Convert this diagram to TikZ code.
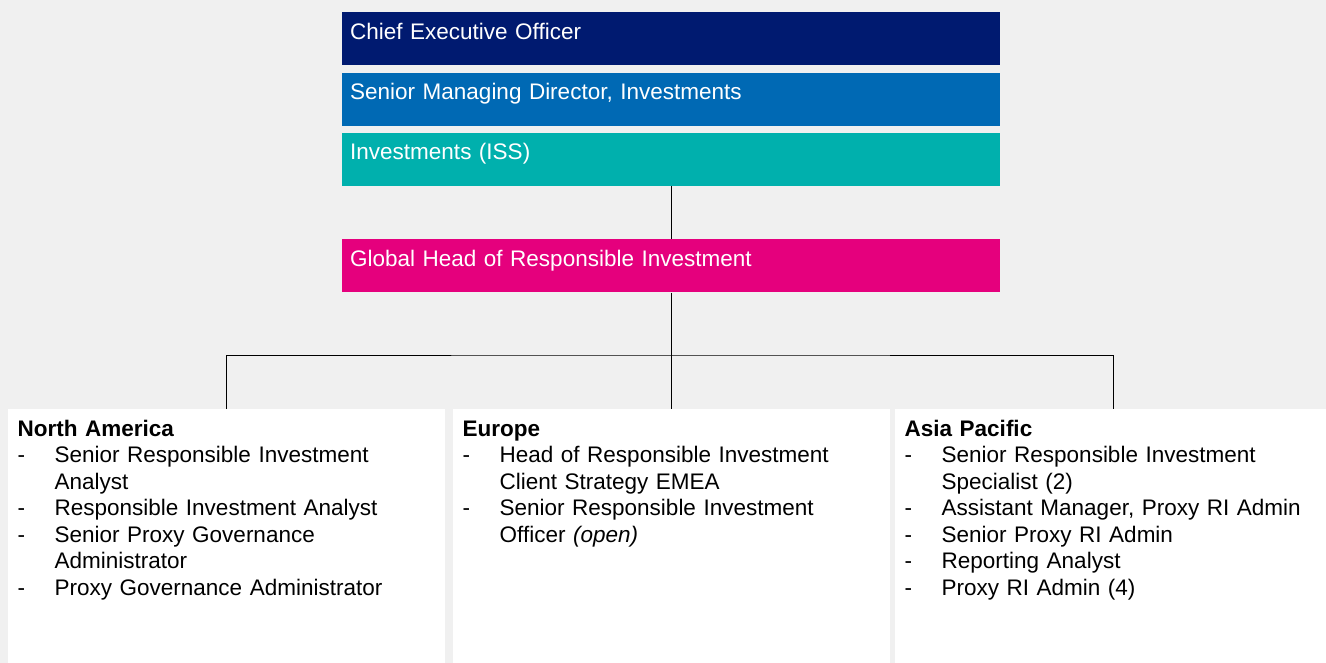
\documentclass[tikz,border=0pt]{standalone}
\usepackage{fontspec}
\setmainfont{Liberation Sans}
\usetikzlibrary{positioning}
\definecolor{ceoblue}{HTML}{001A70}
\definecolor{smdblue}{HTML}{0069B4}
\definecolor{issteal}{HTML}{00B0AD}
\definecolor{rimagenta}{HTML}{E5007D}
\definecolor{panelgray}{HTML}{F0F0F0}
\tikzset{
  levelbox/.style={anchor=north west,text width=642pt,inner xsep=8pt,inner ysep=0pt,
    text height=27pt,text depth=26pt,text=white,align=left,
    font=\fontsize{22.5}{26.5}\selectfont},
  regionbox/.style={anchor=north west,fill=white,text width=418pt,inner xsep=9.5pt,inner ysep=0pt,
    text height=27pt,text depth=235pt,align=left,
    font=\fontsize{22.5}{26.5}\selectfont},
  link/.style={draw=black,line width=1pt}
}
\newcommand{\roleitem}[1]{\makebox[37pt][l]{-}#1}
\newcommand{\rolemore}[1]{\hspace*{37pt}#1}
\begin{document}
\begin{tikzpicture}[x=1pt,y=-1pt,node distance=8pt]
      \useasboundingbox (0,0) rectangle (1326,663);
      \fill[panelgray] (0,0) rectangle (1326,663);
      % reporting line
      \node[levelbox,fill=ceoblue] (ceo) at (342,12) {Chief Executive Officer};
      \node[levelbox,fill=smdblue,below=7pt of ceo.south west,anchor=north west] (smd) {Senior Managing Director, Investments};
      \node[levelbox,fill=issteal,below=7pt of smd.south west,anchor=north west] (iss) {Investments (ISS)};
      \node[levelbox,fill=rimagenta,below=53pt of iss.south west,anchor=north west] (glob) {Global Head of Responsible Investment};
      % regional teams
      \node[regionbox] (na) at (8,409) {\textbf{North America}\\
        \roleitem{Senior Responsible Investment}\\
        \rolemore{Analyst}\\
        \roleitem{Responsible Investment Analyst}\\
        \roleitem{Senior Proxy Governance}\\
        \rolemore{Administrator}\\
        \roleitem{Proxy Governance Administrator}};
      \node[regionbox] (eu) at (453,409) {\textbf{Europe}\\
        \roleitem{Head of Responsible Investment}\\
        \rolemore{Client Strategy EMEA}\\
        \roleitem{Senior Responsible Investment}\\
        \rolemore{Officer \textit{(open)}}};
      \node[regionbox] (ap) at (895,409) {\textbf{Asia Pacific}\\
        \roleitem{Senior Responsible Investment}\\
        \rolemore{Specialist (2)}\\
        \roleitem{Assistant Manager, Proxy RI Admin}\\
        \roleitem{Senior Proxy RI Admin}\\
        \roleitem{Reporting Analyst}\\
        \roleitem{Proxy RI Admin (4)}};
      \coordinate (hub) at (glob.south |- 0,355);
      \draw[link] (iss.south) -- (glob.north);
      \draw[link] (glob.south) -- (hub);
      \draw[link] (na.north) |- (hub) -| (ap.north);
      \draw[link] (hub) -- (hub |- eu.north);
\end{tikzpicture}
\end{document}
